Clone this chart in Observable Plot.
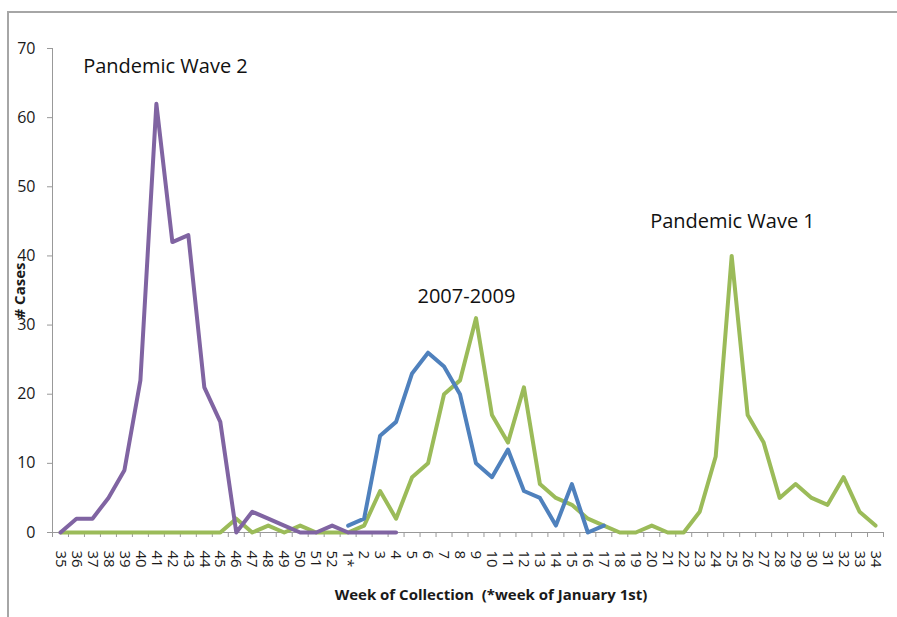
<!DOCTYPE html>
<html>
<head>
<meta charset="utf-8">
<script src="https://cdn.jsdelivr.net/npm/d3@7"></script>
<script src="https://cdn.jsdelivr.net/npm/@observablehq/plot@0.6"></script>
<style>
  html, body { margin: 0; padding: 0; background: #fff; }
  #wrap { position: relative; width: 897px; height: 617px; overflow: hidden; }
  #frame { position: absolute; left: 7px; top: 11px; width: 900px; height: 700px;
           border-left: 2px solid #a6a6a6; border-top: 2px solid #a6a6a6; }
  #chart { position: absolute; left: 0; top: 0; }
</style>
</head>
<body>
<div id="wrap"><div id="frame"></div><div id="chart"></div></div>
<script>
const weeks = ["35","36","37","38","39","40","41","42","43","44","45","46","47","48","49","50","51","52","1*",
  "2","3","4","5","6","7","8","9","10","11","12","13","14","15","16","17","18","19","20","21","22","23","24",
  "25","26","27","28","29","30","31","32","33","34"];

// Pandemic Wave 2 (purple), weeks 35 .. 4
const wave2 = [0,2,2,5,9,22,62,42,43,21,16,0,3,2,1,0,0,1,0,0,0,0];
// 2007-2009 (blue), weeks 1* .. 17
const seasonal = [1,2,14,16,23,26,24,20,10,8,12,6,5,1,7,0,1];
// Pandemic Wave 1 (green), weeks 35 .. 34
const wave1 = [0,0,0,0,0,0,0,0,0,0,0,2,0,1,0,1,0,0,0,1,6,2,8,10,20,22,31,17,13,21,7,5,4,2,1,0,0,1,0,0,3,11,40,17,13,5,7,5,4,8,3,1];

const yTicks = [0,10,20,30,40,50,60,70];
const annotations = [
  {text: "Pandemic Wave 2", week: "41", shift: 0.57, value: 67.4},
  {text: "2007-2009", week: "8", shift: 0.4, value: 34.1},
  {text: "Pandemic Wave 1", week: "25", shift: 0.05, value: 45.0}
];
const xLabel = "Week of Collection  (*week of January 1st)";
const yLabel = "# Cases";

const colors = {wave2: "#8064a2", seasonal: "#4f81bd", wave1: "#9bbb59"};

const idx = w => weeks.indexOf(w);
const toRows = (vals, start) => vals.map((v, i) => ({i: idx(start) + i, v}));
const rowsWave2 = toRows(wave2, "35");
const rowsSeasonal = toRows(seasonal, "1*");
const rowsWave1 = toRows(wave1, "35");

const font = "'Open Sans', sans-serif";
const n = weeks.length;
const boundaries = d3.range(n + 1).map(i => i - 0.5);

const chart = Plot.plot({
  width: 897,
  height: 617,
  marginLeft: 52,
  marginRight: 14,
  marginTop: 48,
  marginBottom: 85,
  style: {fontFamily: font, background: "transparent", overflow: "visible"},
  x: {type: "linear", domain: [-0.5, n - 0.5], axis: null},
  y: {type: "linear", domain: [0, 70], axis: null},
  marks: [
    // tick marks and axis lines
    Plot.ruleY(yTicks, {y: d => d, x1: -0.5, x2: -0.5, insetLeft: -5, stroke: "#999"}),
    Plot.ruleX(boundaries, {x: d => d, y1: 0, y2: 0, insetBottom: -5, stroke: "#999"}),
    Plot.ruleY([0], {y: d => d, x1: -0.5, x2: n - 0.5, stroke: "#999"}),
    Plot.ruleX([-0.5], {x: d => d, y1: 0, y2: 70, stroke: "#999"}),
    // tick labels
    Plot.text(yTicks, {frameAnchor: "left", y: d => d, text: d => String(d), dx: -17, textAnchor: "end",
      fontSize: 16, fill: "#1a1a1a", lineAnchor: "middle"}),
    Plot.text(weeks, {x: (d, i) => i, y: () => 0, text: d => d, rotate: 90, dy: 18, textAnchor: "start",
      lineAnchor: "middle", fontSize: 15, fill: "#1a1a1a"}),
    // series
    Plot.line(rowsWave1, {x: "i", y: "v", stroke: colors.wave1, strokeWidth: 4}),
    Plot.line(rowsSeasonal, {x: "i", y: "v", stroke: colors.seasonal, strokeWidth: 4}),
    Plot.line(rowsWave2, {x: "i", y: "v", stroke: colors.wave2, strokeWidth: 4}),
    // annotations and titles
    Plot.text(annotations, {x: d => idx(d.week) + d.shift, y: "value", text: "text",
      fontSize: 20, fill: "#111", textAnchor: "middle", lineAnchor: "middle"}),
    Plot.text([xLabel], {frameAnchor: "bottom", dx: 23, dy: 63, text: d => d, fontSize: 15, fontWeight: "bold",
      fill: "#1a1a1a", lineAnchor: "middle"}),
    Plot.text([yLabel], {frameAnchor: "left", dx: -32, rotate: -90, text: d => d, fontSize: 15,
      fontWeight: "bold", fill: "#1a1a1a", textAnchor: "middle", lineAnchor: "middle"})
  ]
});
document.getElementById("chart").appendChild(chart);
</script>
</body>
</html>
